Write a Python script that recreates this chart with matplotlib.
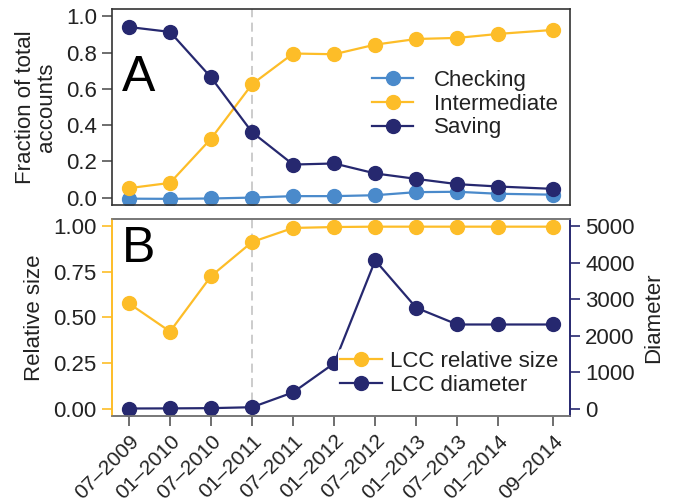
import matplotlib
matplotlib.use("Agg")
import matplotlib.pyplot as plt
import numpy as np

plt.rcParams['font.family'] = ['Liberation Sans', 'DejaVu Sans']

# snapshot dates (month-year)
dates = ["07-2009", "01-2010", "07-2010", "01-2011", "07-2011", "01-2012",
         "07-2012", "01-2013", "07-2013", "01-2014", "09-2014"]

checking = [-0.005, -0.006, -0.004, 0.001, 0.009, 0.009, 0.014, 0.031, 0.033, 0.022, 0.017]
intermediate = [0.053, 0.082, 0.326, 0.626, 0.795, 0.791, 0.844, 0.875, 0.881, 0.903, 0.925]
saving = [0.941, 0.914, 0.663, 0.361, 0.183, 0.189, 0.134, 0.104, 0.075, 0.062, 0.049]

lcc_size = [0.577, 0.423, 0.727, 0.914, 0.991, 0.996, 0.998, 0.998, 0.998, 0.998, 0.998]
lcc_diam = [5, 8, 15, 40, 448, 1245, 4066, 2766, 2308, 2308, 2308]

c_check = "#4A8ACB"
c_inter = "#FDBD28"
c_save = "#26286F"
txt = "#222222"
frame = "#555555"
fs = 16

def month_index(s):
    m, y = s.split("-")
    return (int(y) - 2009) * 12 + int(m) - 7

x = np.array([month_index(d) for d in dates])
xlabels = [d.replace("-", "\u2013") for d in dates]
xpad = 0.04 * (x.max() - x.min())
xlim = (x.min() - xpad, x.max() + xpad)

fig = plt.figure(figsize=(6.79, 5.03), dpi=100)
ax1 = fig.add_axes([0.165, 0.5924, 0.6745, 0.3896])
ax2 = fig.add_axes([0.165, 0.173, 0.6745, 0.3916])

ms = 10
lw = 1.6

# panel A
ax1.axvline(month_index("01-2011"), color="#c8c8c8", ls=(0, (5, 3)), lw=1.3, zorder=0)
ax1.plot(x, checking, "-o", color=c_check, ms=ms, lw=lw, label="Checking")
ax1.plot(x, intermediate, "-o", color=c_inter, ms=ms, lw=lw, label="Intermediate")
ax1.plot(x, saving, "-o", color=c_save, ms=ms, lw=lw, label="Saving")
ax1.set_xlim(xlim)
ax1.set_ylim(-0.04, 1.04)
ax1.set_yticks([0, 0.2, 0.4, 0.6, 0.8, 1.0])
ax1.set_yticklabels(["0.0", "0.2", "0.4", "0.6", "0.8", "1.0"])
ax1.set_xticks([])
ax1.tick_params(axis="y", labelsize=fs, colors=frame, labelcolor=txt, length=7, width=1.2, pad=4)
for s in ax1.spines.values():
    s.set_color("#333333")
    s.set_linewidth(1.2)
ax1.set_ylabel("Fraction of total\naccounts", fontsize=fs, color=txt, linespacing=1.0, labelpad=6)
ax1.text(0.022, 0.648, "A", transform=ax1.transAxes, fontsize=36, color="black", va="center")
ax1.legend(loc="upper left", bbox_to_anchor=(0.563, 0.70), frameon=False, fontsize=fs,
           handlelength=1.85, handletextpad=0.95, labelspacing=0.12, labelcolor=txt,
           borderaxespad=0, borderpad=0.1)

# panel B
ax2.axvline(month_index("01-2011"), color="#c8c8c8", ls=(0, (5, 3)), lw=1.3, zorder=0)
l1, = ax2.plot(x, lcc_size, "-o", color=c_inter, ms=ms, lw=lw, label="LCC relative size")
ax2.set_xlim(xlim)
ax2.set_ylim(-0.04, 1.04)
ax2.set_yticks([0, 0.25, 0.5, 0.75, 1.0])
ax2.set_yticklabels(["0.00", "0.25", "0.50", "0.75", "1.00"])
ax2.set_ylabel("Relative size", fontsize=fs, color=txt, labelpad=6)

ax3 = ax2.twinx()
l2, = ax3.plot(x, lcc_diam, "-o", color=c_save, ms=ms, lw=lw, label="LCC diameter")
ax3.set_ylim(-200, 5200)
ax3.set_yticks([0, 1000, 2000, 3000, 4000, 5000])
ax3.set_ylabel("Diameter", fontsize=fs, color=txt, labelpad=6)

ax2.set_xticks(x)
ax2.set_xticklabels(xlabels, rotation=45, ha="right", rotation_mode="anchor", fontsize=15, color=txt)
ax2.tick_params(axis="x", colors=frame, labelcolor=txt, length=7, width=1.2, pad=4)
ax2.tick_params(axis="y", labelsize=fs, colors=c_inter, labelcolor=txt, length=7, width=1.2, pad=4)
ax3.tick_params(axis="y", labelsize=fs, colors=c_save, labelcolor=txt, length=7, width=1.2, pad=4)

for a in (ax2, ax3):
    for k, s in a.spines.items():
        s.set_linewidth(1.2)
        s.set_color("#777777")
ax3.spines["left"].set_color(c_inter)
ax3.spines["right"].set_color(c_save)
ax2.spines["left"].set_color(c_inter)
ax2.spines["right"].set_color(c_save)

ax2.text(0.022, 0.848, "B", transform=ax2.transAxes, fontsize=36, color="black", va="center")
leg = ax3.legend([l1, l2], ["LCC relative size", "LCC diameter"], loc="upper left",
                 bbox_to_anchor=(0.493, 0.34), frameon=True, fontsize=fs, handlelength=1.9,
                 handletextpad=0.35, labelspacing=0.12, borderaxespad=0, borderpad=0.1,
                 labelcolor=txt)
leg.get_frame().set_edgecolor("none")
leg.get_frame().set_facecolor("white")
leg.get_frame().set_alpha(1.0)

fig.savefig("out.png", dpi=100)
